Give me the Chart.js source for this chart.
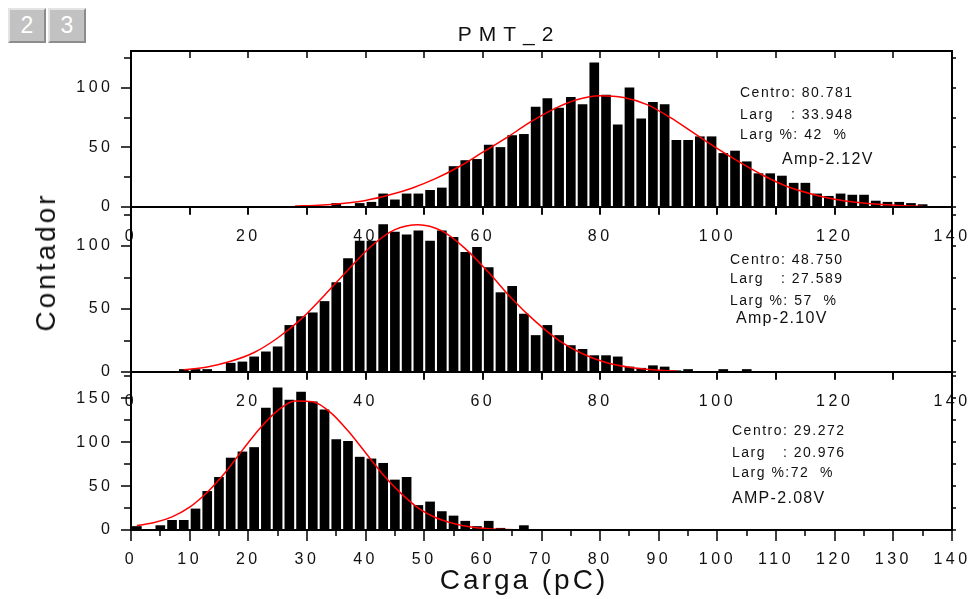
<!DOCTYPE html>
<html><head><meta charset="utf-8">
<script src="https://cdn.jsdelivr.net/npm/chart.js@4.4.1/dist/chart.umd.min.js"></script>
<style>
html,body{margin:0;padding:0;background:#fff;}
#wrap{position:relative;width:970px;height:599px;overflow:hidden;background:#fff;font-family:"Liberation Sans",Arial,sans-serif;}
canvas{position:absolute;left:0;top:0;}
.t{position:absolute;white-space:pre;color:#111;line-height:1;}
.ann{font-size:14px;letter-spacing:1.5px;}
.amp{font-size:16px;letter-spacing:1.3px;}
.btn{position:absolute;top:8px;width:38px;height:35px;box-sizing:border-box;background:#c2c2c2;border:2px solid;border-color:#e4e4e4 #8c8c8c #8c8c8c #e4e4e4;color:#fff;font-size:23px;text-align:center;line-height:31px;}
</style></head>
<body><div id="wrap">
<canvas id="c1" width="970" height="599"></canvas>
<canvas id="c2" width="970" height="599"></canvas>
<canvas id="c3" width="970" height="599"></canvas>

<div class="btn" style="left:8px">2</div>
<div class="btn" style="left:48px">3</div>

<div class="t" style="left:509px;top:33px;font-size:21px;letter-spacing:7px;transform:translate(-50%,-50%)">PMT_2</div>
<div class="t" style="left:46px;top:262px;font-size:28px;letter-spacing:3px;transform:translate(-50%,-50%) rotate(-90deg)">Contador</div>
<div class="t" style="left:524px;top:580px;font-size:28px;letter-spacing:3px;transform:translate(-50%,-50%)">Carga (pC)</div>

<div class="t ann" style="left:740px;top:85px">Centro: 80.781</div>
<div class="t ann" style="left:740px;top:107px">Larg</div>
<div class="t ann" style="left:791px;top:107px">: 33.948</div>
<div class="t ann" style="left:740px;top:127px">Larg %: 42  %</div>
<div class="t amp" style="left:782px;top:151px">Amp-2.12V</div>

<div class="t ann" style="left:730px;top:252px">Centro: 48.750</div>
<div class="t ann" style="left:730px;top:271px">Larg</div>
<div class="t ann" style="left:781px;top:271px">: 27.589</div>
<div class="t ann" style="left:730px;top:293px">Larg %: 57  %</div>
<div class="t amp" style="left:736px;top:310px">Amp-2.10V</div>

<div class="t ann" style="left:732px;top:423px">Centro: 29.272</div>
<div class="t ann" style="left:732px;top:445px">Larg</div>
<div class="t ann" style="left:783px;top:445px">: 20.976</div>
<div class="t ann" style="left:732px;top:465px">Larg %:72  %</div>
<div class="t amp" style="left:732px;top:490px">AMP-2.08V</div>
</div>
<script>
// ---- data ----
const binCenters = [1,3,5,7,9,11,13,15,17,19,21,23,25,27,29,31,33,35,37,39,41,43,45,47,49,51,53,55,57,59,61,63,65,67,69,71,73,75,77,79,81,83,85,87,89,91,93,95,97,99,101,103,105,107,109,111,113,115,117,119,121,123,125,127,129,131,133,135,137,139];

const countsTop = [0,0,0,0,0,0,0,0,0,0,0,0,0,0,0,0,0,
  3,0,3,4,11,6,11,11,14,16,
  34,39,40,52,50,60,61,84,91,83,
  92,86,121,94,69,100,74,88,86,56,
  56,59,59,45,47,38,28,28,26,20,
  20,11,9,11,10,10,5,4,4,3,
  2,0,0];

const countsMid = [0,0,0,0,2,2,2,0,7,8,12,16,20,37,
  44,47,56,71,90,104,104,117,111,109,
  112,104,112,107,95,99,83,63,68,46,
  29,37,29,21,18,13,13,12,4,3,
  5,4,1,2,0,0,2,0,2,
  0,0,0,0,0,0,0,0,0,0,0,0,0,0,0,0,0];

const countsBot = [4,0,5,11,11,24,44,60,82,89,
  94,139,162,148,157,146,137,103,101,83,
  81,76,57,60,28,32,21,16,10,4,
  10,2,0,5,
  0,0,0,0,0,0,0,0,0,0,0,0,0,0,0,0,0,0,0,0,0,0,0,0,0,0,0,0,0,0,0,0,0,0,0,0];

const fitTopX = [28,32,36,40,44,48,52,56,60,64,68,72,76,80,84,88,92,96,100,104,108,112,116,120,124,128,132,135];
const fitTopY = [0.8,1.5,3,5.5,10,16,24,34,46,58,71,82,90,93.5,92,86,75,62,49,37,26,17,11,6.5,3.7,2,1,0.6];

const fitMidX = [9,13,17,21,25,29,33,37,41,45,49,53,57,61,65,69,73,77,81,85,89,93];
const fitMidY = [1.8,4,8.5,15.5,27,42,61,81,100,113,117,112,98,79,58,40,25,14.5,7.5,3.7,1.7,0.7];

const fitBotX = [1,4,7,10,13,16,19,22,25,28,31,34,37,40,43,46,49,52,55,58,61,64,67,70,73,75];
const fitBotY = [5,8.5,15,26,43,65,91,116,136,147,146,134,113,88,63,42,25,14,7.5,3.5,1.5,0.6,0.2,0.1,0,0];

// ---- axes: tick labels and tick marks ----
const xLabelsUpper = [0,20,40,60,80,100,120,140];
const xLabelsBottom = [0,10,20,30,40,50,60,70,80,90,100,110,120,130,140];
const xMarks10 = [0,10,20,30,40,50,60,70,80,90,100,110,120,130,140];
const xMarks5 = [0,5,10,15,20,25,30,35,40,45,50,55,60,65,70,75,80,85,90,95,100,105,110,115,120,125,130,135,140];
const yLabelsUpper = [0,50,100];
const yLabelsBottom = [0,50,100,150];
const yMarksUpper = [0,25,50,75,100,125];
const yMarksBottom = [0,25,50,75,100,125,150,175];
const yMaxUpper = 131;
const yMaxBottom = 180;

Chart.defaults.font.family = '"Liberation Sans", Arial, sans-serif';

const PLOT_LEFT = 131, PLOT_RIGHT = 952, XAXIS_H = 45;

function framePlugin(cfg) {
  return {
    id: 'frame' + cfg.id,
    beforeDraw(chart) { chart.ctx.letterSpacing = '3.5px'; },
    afterDatasetsDraw(chart) {
      const ctx = chart.ctx, a = chart.chartArea, x = chart.scales.x, y = chart.scales.y;
      ctx.save();
      ctx.strokeStyle = '#000';
      ctx.lineWidth = 1.5;
      ctx.beginPath();
      cfg.yMarks.forEach(v => {
        const py = Math.round(y.getPixelForValue(v));
        const len = cfg.yLabels.includes(v) ? 10 : 7;
        ctx.moveTo(a.left, py); ctx.lineTo(a.left - len, py);
        ctx.moveTo(a.right, py); ctx.lineTo(a.right + 4, py);
      });
      cfg.topMarks.forEach(v => {
        const px = Math.round(x.getPixelForValue(v));
        ctx.moveTo(px, a.top); ctx.lineTo(px, a.top + 7);
      });
      cfg.bottomMarks.forEach(v => {
        const px = Math.round(x.getPixelForValue(v));
        const len = cfg.bottomMajor ? (cfg.bottomMajor.includes(v) ? 11 : 6) : 8;
        ctx.moveTo(px, a.bottom); ctx.lineTo(px, a.bottom + len);
      });
      ctx.stroke();
      ctx.lineWidth = 2;
      ctx.strokeRect(a.left, a.top, a.right - a.left, a.bottom - a.top);
      ctx.restore();
    }
  };
}

function makePanel(cfg) {
  const bars = binCenters.map((c, i) => ({x: c, y: cfg.counts[i]}));
  const fit = cfg.fitX.map((c, i) => ({x: c, y: cfg.fitY[i]}));
  return new Chart(document.getElementById(cfg.canvas), {
    type: 'bar',
    data: {
      datasets: [
        {type: 'line', data: fit, borderColor: '#ff0000', borderWidth: 1.5, pointRadius: 0,
         cubicInterpolationMode: 'monotone', fill: false, order: 0},
        {type: 'bar', data: bars, backgroundColor: '#000', borderWidth: 0, barThickness: 9, order: 1}
      ]
    },
    options: {
      responsive: false, animation: false, devicePixelRatio: 1, events: [],
      layout: {padding: {left: 0, right: 970 - PLOT_RIGHT, top: cfg.top, bottom: 599 - cfg.bottom - XAXIS_H}},
      plugins: {legend: {display: false}, tooltip: {enabled: false}, title: {display: false}},
      scales: {
        x: {
          type: 'linear', min: 0, max: 140, offset: false,
          grid: {display: false, drawTicks: false, tickLength: 0}, border: {display: false},
          afterBuildTicks: s => { s.ticks = cfg.xLabels.map(v => ({value: v})); },
          afterFit: s => { s.height = XAXIS_H; s.paddingLeft = 0; s.paddingRight = 0; },
          ticks: {padding: 20, autoSkip: false, maxRotation: 0, color: '#111', font: {size: 16},
                  callback: v => String(v)}
        },
        y: {
          type: 'linear', min: 0, max: cfg.yMax,
          grid: {display: false, drawTicks: false, tickLength: 0}, border: {display: false},
          afterBuildTicks: s => { s.ticks = cfg.yLabels.map(v => ({value: v})); },
          afterFit: s => { s.width = PLOT_LEFT; s.paddingTop = 0; s.paddingBottom = 0; },
          ticks: {padding: 17.5, color: '#111', font: {size: 16}, callback: v => String(v)}
        }
      }
    },
    plugins: [framePlugin(cfg)]
  });
}

makePanel({id: 1, canvas: 'c1', top: 51, bottom: 207, yMax: yMaxUpper, counts: countsTop,
  fitX: fitTopX, fitY: fitTopY, xLabels: xLabelsUpper, yLabels: yLabelsUpper, yMarks: yMarksUpper,
  topMarks: xMarks10, bottomMarks: xMarks10});
makePanel({id: 2, canvas: 'c2', top: 207, bottom: 372, yMax: yMaxUpper, counts: countsMid,
  fitX: fitMidX, fitY: fitMidY, xLabels: xLabelsUpper, yLabels: yLabelsUpper, yMarks: yMarksUpper,
  topMarks: xMarks10, bottomMarks: xMarks10});
makePanel({id: 3, canvas: 'c3', top: 372, bottom: 530, yMax: yMaxBottom, counts: countsBot,
  fitX: fitBotX, fitY: fitBotY, xLabels: xLabelsBottom, yLabels: yLabelsBottom, yMarks: yMarksBottom,
  topMarks: xMarks10, bottomMarks: xMarks5, bottomMajor: xMarks10});
</script>
</body></html>
